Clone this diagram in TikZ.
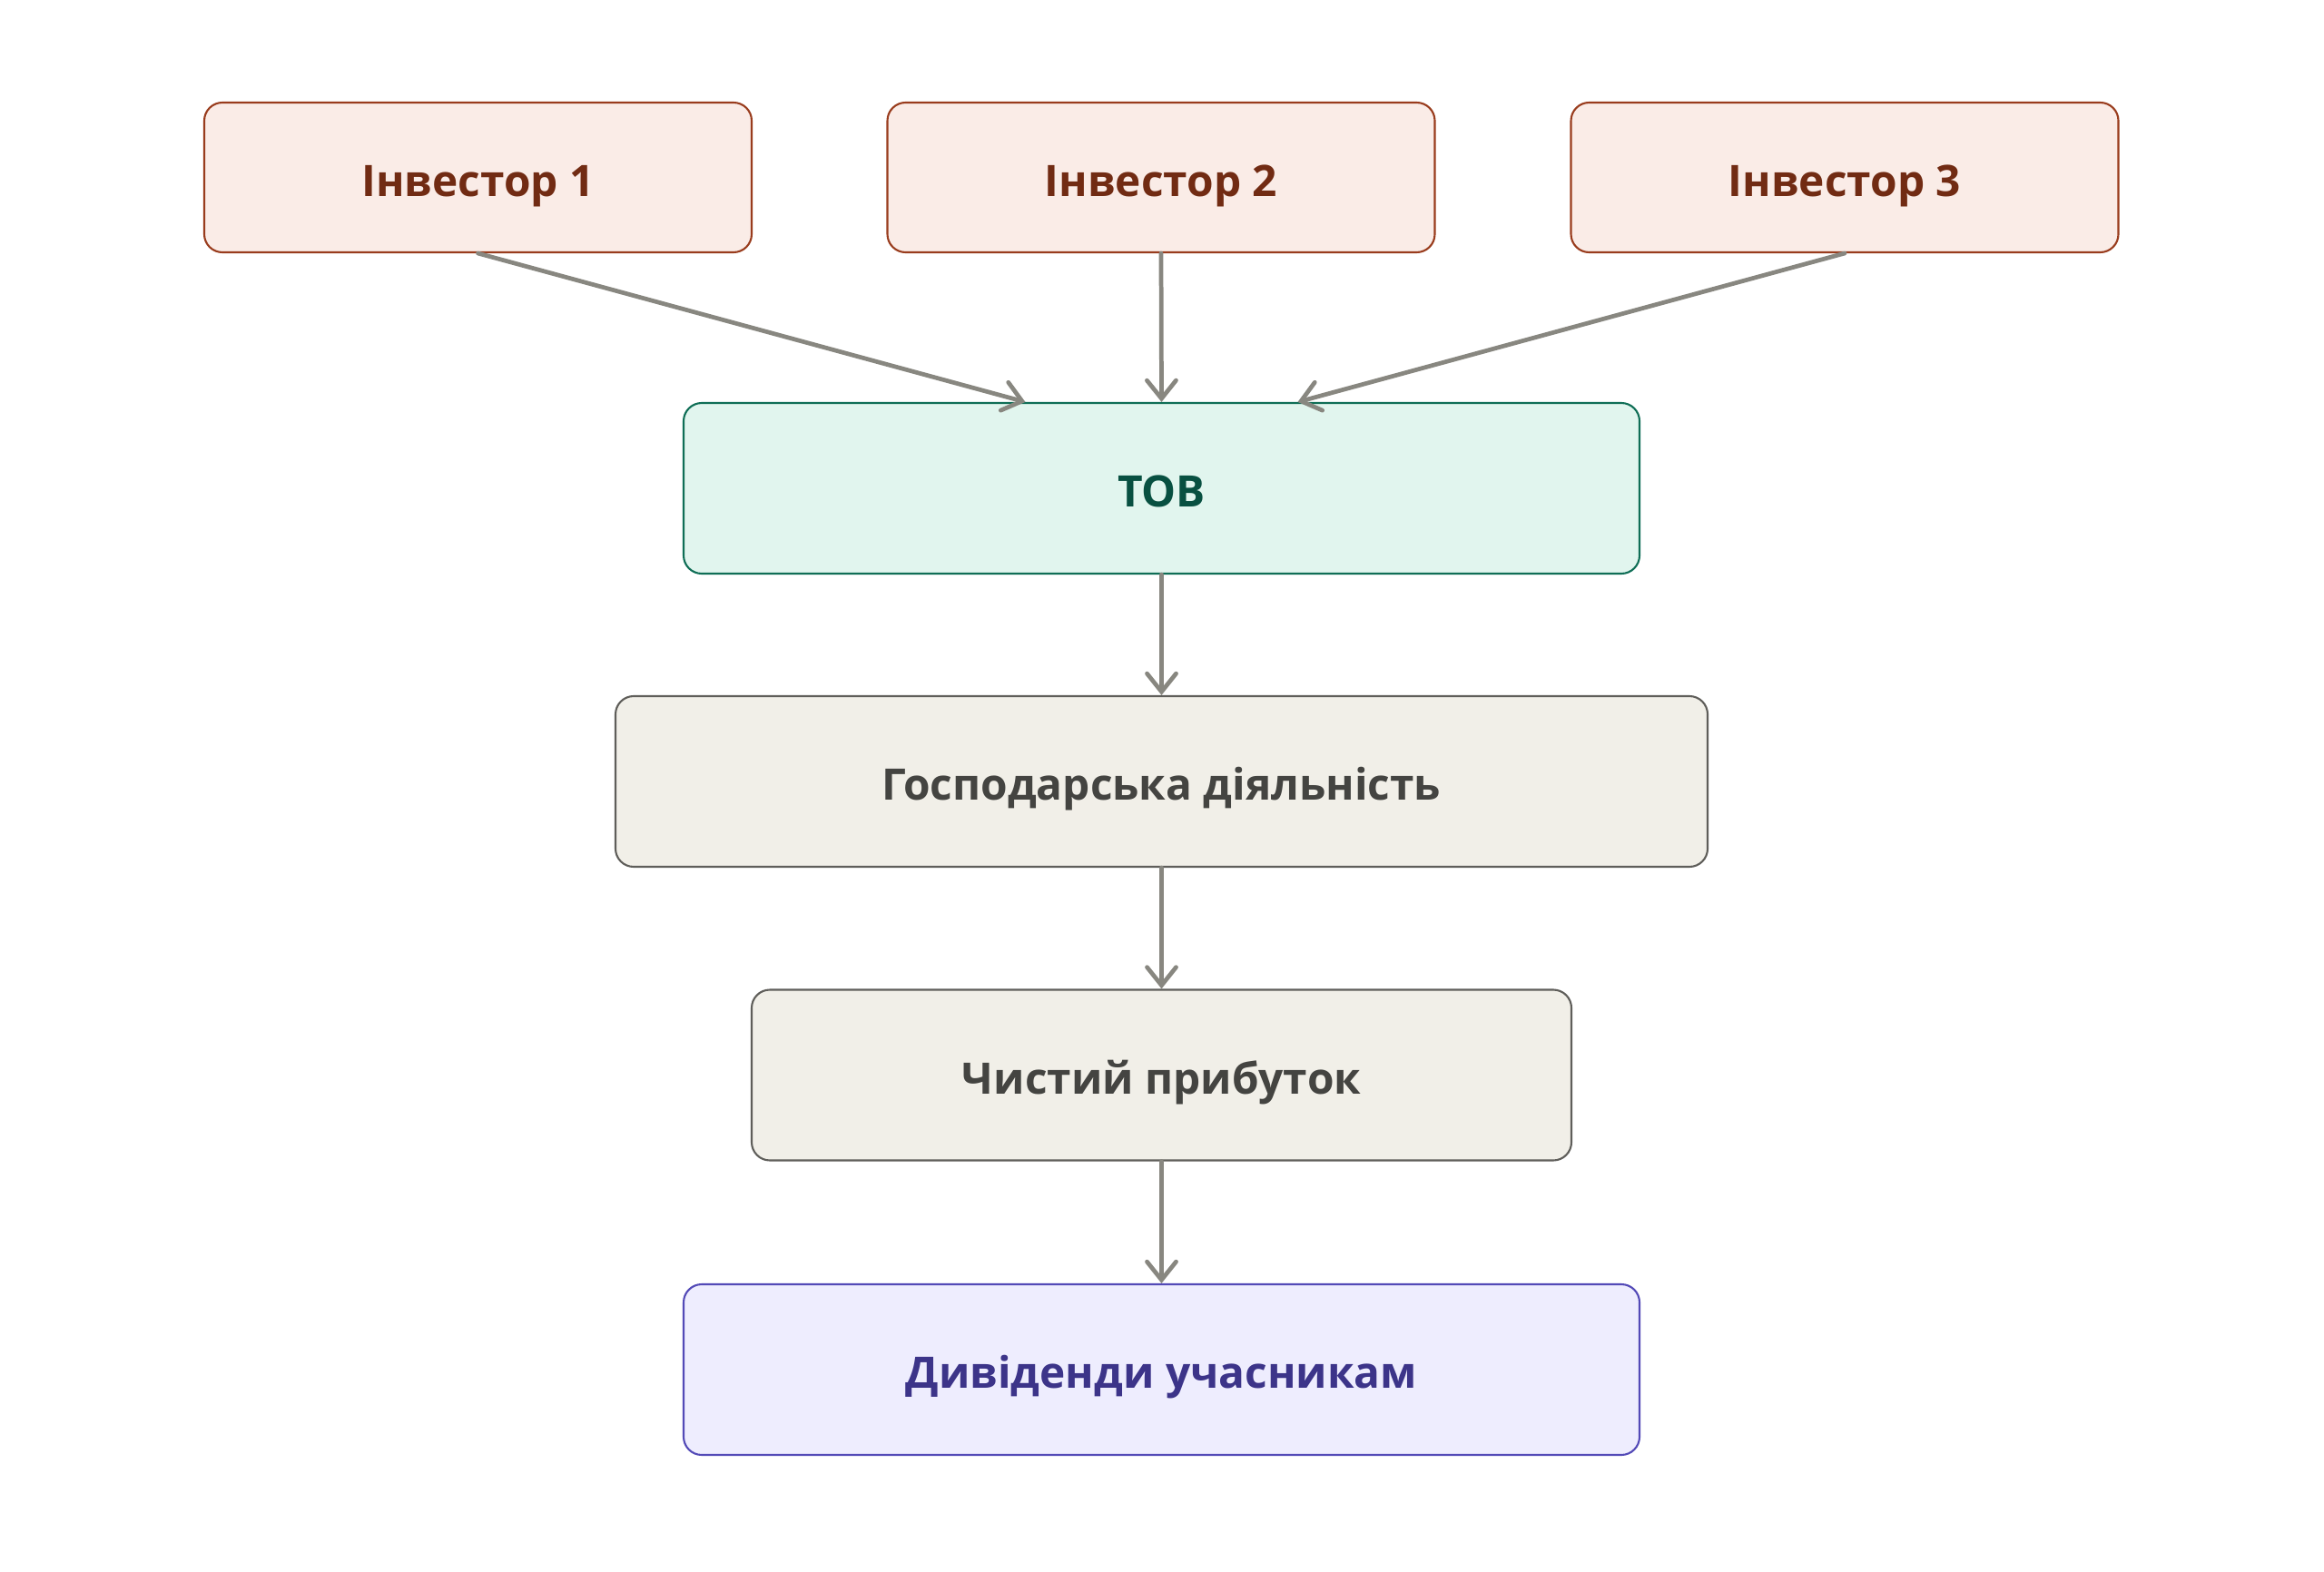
\documentclass[tikz,border=0pt]{standalone}
\usepackage{fontspec}
\setmainfont{Open Sans}
\usetikzlibrary{arrows.meta}
\definecolor{invfill}{HTML}{FAECE7}
\definecolor{invdraw}{HTML}{993C1D}
\definecolor{invtext}{HTML}{712B13}
\definecolor{tovfill}{HTML}{E1F5EE}
\definecolor{tovdraw}{HTML}{0F6E56}
\definecolor{tovtext}{HTML}{085041}
\definecolor{grfill}{HTML}{F1EFE8}
\definecolor{grdraw}{HTML}{5F5E5A}
\definecolor{grtext}{HTML}{444441}
\definecolor{pufill}{HTML}{EEEDFE}
\definecolor{pudraw}{HTML}{534AB7}
\definecolor{putext}{HTML}{3C3489}
\definecolor{arr}{HTML}{888780}
\tikzset{
  box/.style={rectangle, rounded corners=0.2cm, line width=0.6pt, inner sep=0pt,
    text height=2.2ex, text depth=0pt,
    font=\fontsize{13.6pt}{16pt}\selectfont\bfseries},
  inv/.style={box, fill=invfill, draw=invdraw, text=invtext, minimum width=6.03cm, minimum height=1.65cm},
  tov/.style={box, fill=tovfill, draw=tovdraw, text=tovtext, minimum height=1.88cm},
  gr/.style={box, fill=grfill, draw=grdraw, text=grtext, minimum height=1.88cm},
  pu/.style={box, fill=pufill, draw=pudraw, text=putext, minimum height=1.88cm},
  conn/.style={draw=arr, line width=1.35pt, line cap=round,
    -{Straight Barb[length=0.2cm,width=0.32cm,line cap=round]}}
}
\begin{document}
\begin{tikzpicture}[yscale=-1]
\useasboundingbox (0,0) rectangle (25.6,17.32);
\node[inv] (i1) at (5.265,1.955) {Інвестор 1};
\node[inv] (i2) at (12.79,1.955) {Інвестор 2};
\node[inv] (i3) at (20.32,1.955) {Інвестор 3};
\node[tov, minimum width=10.53cm] (tov) at (12.795,5.38) {ТОВ};
\node[gr, minimum width=12.03cm] (hd) at (12.795,8.61) {Господарська діяльність};
\node[gr, minimum width=9.03cm] (cp) at (12.795,11.845) {Чистий прибуток};
\node[pu, minimum width=10.53cm] (dv) at (12.795,15.09) {Дивіденди учасникам};
\coordinate (t1) at ([xshift=-1.5cm]tov.north);
\coordinate (t3) at ([xshift=1.5cm]tov.north);
\draw[conn] (i1.south) -- (t1);
\draw[conn] (i2.south) -- (tov.north);
\draw[conn] (i3.south) -- (t3);
\draw[conn] (tov.south) -- (hd.north);
\draw[conn] (hd.south) -- (cp.north);
\draw[conn] (cp.south) -- (dv.north);
\end{tikzpicture}
\end{document}
